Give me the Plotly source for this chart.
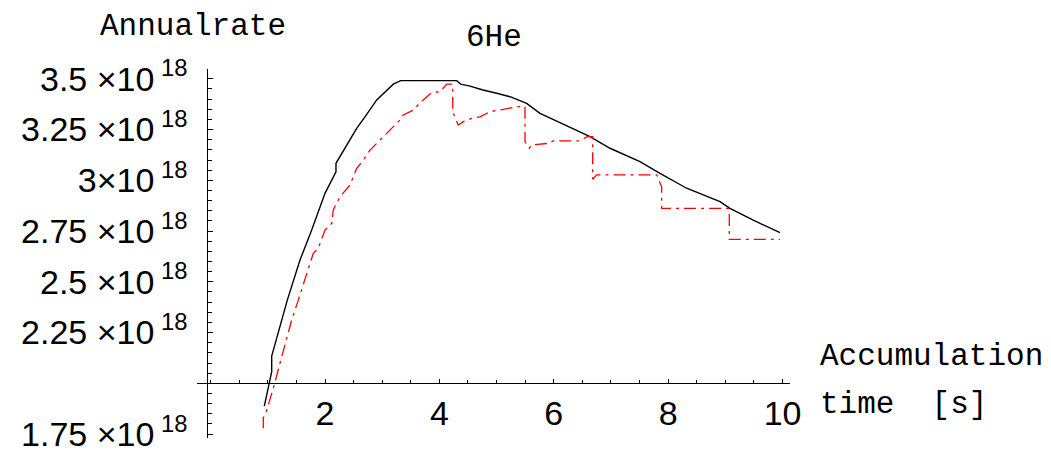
import plotly.graph_objects as go

# ---- data (rate in units of 1e18) ----
black_t = [0.939, 1.068, 1.068, 1.341, 1.563, 1.767, 2.0, 2.192, 2.192, 2.379, 2.554, 2.699,
           2.904, 3.194, 3.323, 4.302, 4.372, 4.535, 4.762, 5.002, 5.234, 5.526, 5.759,
           6.108, 6.633, 6.983, 7.507, 7.857, 8.323, 8.906, 9.080, 9.488, 9.955]
black_rate = [1.888, 2.057, 2.134, 2.410, 2.607, 2.755, 2.936, 3.042, 3.084, 3.174, 3.256, 3.313,
              3.396, 3.474, 3.491, 3.491, 3.474, 3.464, 3.445, 3.429, 3.412, 3.379, 3.330,
              3.284, 3.215, 3.158, 3.092, 3.034, 2.961, 2.895, 2.862, 2.804, 2.742]

red_t = [0.921, 0.921, 0.981, 1.096, 1.213, 1.330, 1.418, 1.533, 1.795, 1.883, 2.0, 2.117,
         2.145, 2.262, 2.437, 2.554, 2.670, 2.787, 2.991, 3.079, 3.311, 3.369, 3.544, 3.661,
         3.865, 4.011, 4.128, 4.233, 4.233, 4.330, 4.418, 4.565, 4.710, 4.885, 5.059, 5.379,
         5.497, 5.497, 5.572, 5.614, 5.904, 5.991, 6.458, 6.586, 6.680, 6.680, 6.750, 7.799,
         7.886, 7.886, 9.051, 9.068, 9.068, 9.955]
red_rate = [1.778, 1.829, 1.868, 1.975, 2.099, 2.213, 2.312, 2.410, 2.640, 2.665, 2.755, 2.788,
            2.854, 2.919, 2.977, 3.059, 3.100, 3.149, 3.207, 3.232, 3.297, 3.322, 3.346, 3.382,
            3.432, 3.436, 3.474, 3.474, 3.338, 3.272, 3.289, 3.305, 3.313, 3.338, 3.346, 3.363,
            3.363, 3.190, 3.158, 3.174, 3.182, 3.194, 3.194, 3.215, 3.215, 3.005, 3.027, 3.027,
            2.968, 2.862, 2.862, 2.845, 2.709, 2.709]

x_tickvals = [2, 4, 6, 8, 10]
x_ticktext = ["2", "4", "6", "8", "10"]
y_tickvals = [1.75, 2.25, 2.5, 2.75, 3.0, 3.25, 3.5]
y_ticktext = ["1.75 ×10<sup>\u00a018</sup>", "2.25 ×10<sup>\u00a018</sup>",
              "2.5 ×10<sup>\u00a018</sup>", "2.75 ×10<sup>\u00a018</sup>",
              "3×10<sup>\u00a018</sup>", "3.25 ×10<sup>\u00a018</sup>",
              "3.5 ×10<sup>\u00a018</sup>"]

W, H = 1051, 453
X_RANGE = [-0.245, 10.13]
Y_RANGE = [1.729, 3.547]
X_DOMAIN = [196.6 / W, 790.0 / W]
Y_DOMAIN = [1 - 438.3 / H, 1 - 69.3 / H]
XAXIS_POS = 1 - 383.3 / H   # x-axis crosses at rate 2.0e18
YAXIS_POS = 207.3 / W       # y-axis near t = 0

TICK_FONT = dict(family="Liberation Sans", size=34, color="black")
MONO = dict(family="Liberation Mono", size=31, color="black")

fig = go.Figure()
fig.add_trace(go.Scatter(x=black_t, y=black_rate, mode="lines",
                         line=dict(color="black", width=1.4), showlegend=False))
fig.add_trace(go.Scatter(x=red_t, y=red_rate, mode="lines",
                         line=dict(color="red", width=1.3, dash="12px,5px,3px,5px"),
                         showlegend=False))

fig.update_layout(
    width=W, height=H, margin=dict(l=0, r=0, t=0, b=0, autoexpand=False),
    plot_bgcolor="white", paper_bgcolor="white", showlegend=False,
    xaxis=dict(domain=X_DOMAIN, range=X_RANGE, anchor="free", position=XAXIS_POS,
               automargin=False,
               showline=True, linecolor="black", linewidth=1, showgrid=False, zeroline=False,
               tickvals=x_tickvals, ticktext=x_ticktext, ticks="inside", ticklen=4,
               tickcolor="black", tickfont=TICK_FONT, ticklabelstandoff=0,
               minor=dict(dtick=0.5, tick0=0, ticks="inside", ticklen=3, tickcolor="black",
                          showgrid=False)),
    yaxis=dict(domain=Y_DOMAIN, range=Y_RANGE, anchor="free", position=YAXIS_POS,
               automargin=False,
               showline=True, linecolor="black", linewidth=1, showgrid=False, zeroline=False,
               tickvals=y_tickvals, ticktext=y_ticktext, ticks="inside", ticklen=5,
               tickcolor="black", tickfont=TICK_FONT, ticklabelstandoff=13,
               minor=dict(dtick=0.05, tick0=0, ticks="inside", ticklen=4, tickcolor="black",
                          showgrid=False)),
    annotations=[
        dict(text="Annualrate", x=98 / W, y=1 - 27 / H, xref="paper", yref="paper",
             xanchor="left", yanchor="middle", showarrow=False, font=MONO),
        dict(text="6He", x=494 / W, y=1 - 38 / H, xref="paper", yref="paper",
             xanchor="center", yanchor="middle", showarrow=False, font=MONO),
        dict(text="Accumulation", x=818 / W, y=1 - 356 / H, xref="paper", yref="paper",
             xanchor="left", yanchor="middle", showarrow=False, font=MONO),
        dict(text="time  [s]", x=818 / W, y=1 - 404 / H, xref="paper", yref="paper",
             xanchor="left", yanchor="middle", showarrow=False, font=MONO),
    ],
)

fig.write_html("out.html", config={"displayModeBar": False},
               post_script="document.body.style.margin='0';document.body.style.overflow='hidden';")
